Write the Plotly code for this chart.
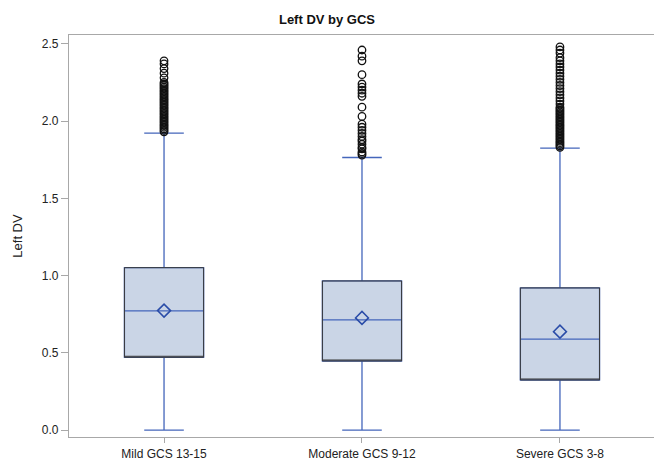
import plotly.graph_objects as go

categories = ["Mild GCS 13-15", "Moderate GCS 9-12", "Severe GCS 3-8"]
q1 = [0.471, 0.447, 0.324]
median = [0.771, 0.713, 0.589]
q3 = [1.051, 0.965, 0.920]
lower_whisker = [0.0, 0.0, 0.0]
upper_whisker = [1.922, 1.764, 1.825]
means = [0.773, 0.726, 0.637]

outliers_mild = [1.93, 1.94, 1.95, 1.96, 1.97, 1.98, 1.99, 2.00, 2.01, 2.02, 2.03, 2.04,
                 2.05, 2.06, 2.07, 2.08, 2.09, 2.10, 2.11, 2.12, 2.13, 2.14, 2.15, 2.16,
                 2.17, 2.18, 2.19, 2.20, 2.21, 2.22, 2.23, 2.24, 2.25, 2.28, 2.31, 2.34,
                 2.37, 2.39]
outliers_moderate = [1.78, 1.79, 1.80, 1.82, 1.83, 1.85, 1.87, 1.88, 1.90, 1.92, 1.94,
                     1.96, 1.98, 2.03, 2.09, 2.16, 2.18, 2.20, 2.22, 2.24, 2.30, 2.39,
                     2.42, 2.46]
outliers_severe = [1.83, 1.84, 1.85, 1.86, 1.87, 1.88, 1.89, 1.90, 1.91, 1.92, 1.93, 1.94,
                   1.95, 1.96, 1.97, 1.98, 1.99, 2.00, 2.01, 2.02, 2.03, 2.04, 2.05, 2.06,
                   2.07, 2.08, 2.09, 2.11, 2.13, 2.15, 2.17, 2.19, 2.21, 2.23, 2.25, 2.27,
                   2.29, 2.31, 2.33, 2.35, 2.37, 2.39, 2.41, 2.44, 2.46, 2.48]
outliers = [outliers_mild, outliers_moderate, outliers_severe]

FILL = "#CAD5E6"
BLUE = "#4466BB"
DARK = "#3A3A3A"

fig = go.Figure()

# Main box: fill, blue whiskers and median
fig.add_trace(go.Box(
    x=categories, q1=q1, median=median, q3=q3,
    lowerfence=lower_whisker, upperfence=upper_whisker,
    fillcolor=FILL, line=dict(color=BLUE, width=1.3),
    width=0.4, whiskerwidth=0.5, boxpoints=False,
    hoverinfo="skip", showlegend=False,
))
# Dark box outline overlay
fig.add_trace(go.Box(
    x=categories, q1=q1, median=q1, q3=q3,
    lowerfence=q1, upperfence=q3,
    fillcolor="rgba(0,0,0,0)", line=dict(color=DARK, width=1),
    width=0.4, whiskerwidth=0, boxpoints=False,
    hoverinfo="skip", showlegend=False,
))
# Means
fig.add_trace(go.Scatter(
    x=categories, y=means, mode="markers",
    marker=dict(symbol="diamond-open", size=10, color="#2A4CA8", line=dict(width=1.5)),
    showlegend=False,
))
# Outliers
for cat, vals in zip(categories, outliers):
    fig.add_trace(go.Scatter(
        x=[cat] * len(vals), y=vals, mode="markers",
        marker=dict(symbol="circle-open", size=7.5, color="#111111", line=dict(width=1.3)),
        showlegend=False,
    ))

fig.update_layout(
    width=654, height=465,
    margin=dict(l=69, r=0, t=35, b=28),
    paper_bgcolor="white", plot_bgcolor="white",
    boxmode="overlay",
    font=dict(family="Liberation Sans, Arial, sans-serif", size=12, color="#333333"),
    title=dict(text="<b>Left DV by GCS</b>", x=0.5, xanchor="center", y=0.958, yanchor="middle",
               font=dict(size=13, color="#111111")),
)
fig.update_xaxes(
    type="category", range=[-0.48, 2.475],
    showline=True, linecolor="#A8A8A8", linewidth=1.3, mirror=True,
    ticks="outside", ticklen=5, tickcolor="#A8A8A8",
    showgrid=False, zeroline=False,
    tickfont=dict(size=12, color="#222222"),
)
fig.update_yaxes(
    range=[-0.045, 2.557], tickvals=[0.0, 0.5, 1.0, 1.5, 2.0, 2.5],
    ticktext=["0.0", "0.5", "1.0", "1.5", "2.0", "2.5"],
    showline=True, linecolor="#A8A8A8", linewidth=1.3,
    ticks="outside", ticklen=7, tickcolor="#A8A8A8",
    showgrid=False, zeroline=False,
    title=dict(text="Left DV", standoff=16, font=dict(size=13, color="#222222")),
    tickfont=dict(size=12, color="#222222"),
)

fig.write_html("out.html")
